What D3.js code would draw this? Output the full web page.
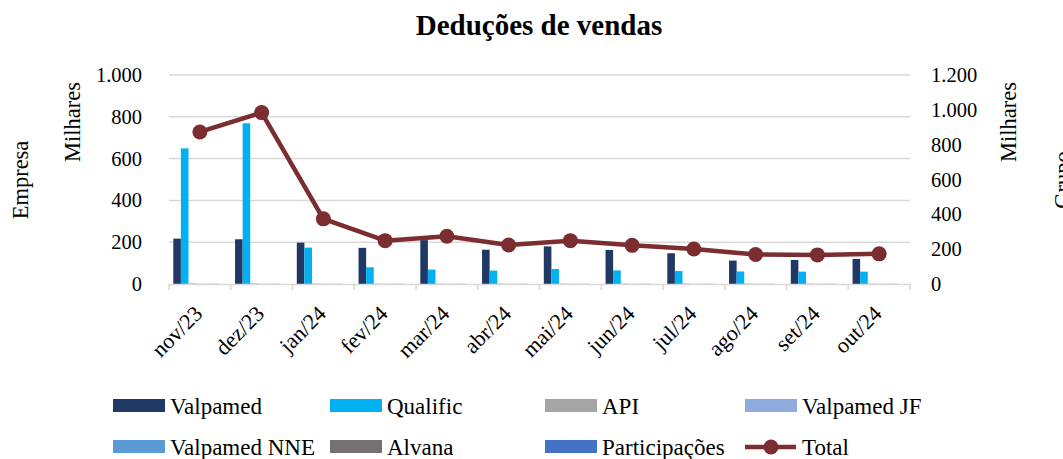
<!DOCTYPE html>
<html>
<head>
<meta charset="utf-8">
<script src="https://cdn.jsdelivr.net/npm/d3@7"></script>
<style>
  body { margin: 0; background: #fff; }
  svg, svg text { font-family: "Liberation Serif", "DejaVu Serif", serif; fill: #000; }
</style>
</head>
<body>
<div id="chart"></div>
<script>
const months = ['nov/23', 'dez/23', 'jan/24', 'fev/24', 'mar/24', 'abr/24', 'mai/24', 'jun/24', 'jul/24', 'ago/24', 'set/24', 'out/24'];

// valores em milhares
const valpamed = [217, 214, 198, 173, 210, 164, 180, 163, 147, 112, 115, 120];
const qualific = [649, 769, 174, 80, 69, 64, 72, 65, 62, 60, 59, 59];
const api = [3, 3, 2, 2, 2, 2, 2, 2, 2, 2, 2, 2];
const valpamedJF = [1, 1, 1, 1, 1, 1, 1, 1, 1, 1, 1, 1];
const valpamedNNE = [1, 1, 1, 1, 1, 1, 1, 1, 1, 1, 1, 1];
const alvana = [1, 1, 1, 1, 1, 1, 1, 1, 1, 1, 1, 1];
const participacoes = [0, 0, 0, 0, 0, 0, 0, 0, 0, 0, 0, 0];
const total = [873, 984, 374, 249, 274, 224, 249, 222, 201, 169, 167, 173];

const leftTicks = [0, 200, 400, 600, 800, 1000];
const rightTicks = [0, 200, 400, 600, 800, 1000, 1200];

const series = [
  { name: 'Valpamed', values: valpamed, color: '#1F3864' },
  { name: 'Qualific', values: qualific, color: '#00B0F0' },
  { name: 'API', values: api, color: '#A5A5A5' },
  { name: 'Valpamed JF', values: valpamedJF, color: '#8FAADC' },
  { name: 'Valpamed NNE', values: valpamedNNE, color: '#5B9BD5' },
  { name: 'Alvana', values: alvana, color: '#767171' },
  { name: 'Participações', values: participacoes, color: '#4472C4' }
];
const totalColor = '#7B2D30';

const width = 1063, height = 459;
const plot = { left: 169, right: 910, top: 75, bottom: 284 };
const serif = '"Liberation Serif", "DejaVu Serif", serif';

const svg = d3.select('#chart')
  .append('svg')
  .attr('width', width)
  .attr('height', height)
  .attr('font-family', serif);

const fmt = d3.formatLocale({ decimal: ',', thousands: '.', grouping: [3], currency: ['', ''] }).format(',d');

const x = d3.scaleBand()
  .domain(months)
  .range([plot.left, plot.right]);

const x1 = d3.scaleBand()
  .domain(series.map(s => s.name))
  .range([4.3, x.bandwidth() - 4.3]);

const yLeft = d3.scaleLinear()
  .domain([0, 1000])
  .range([plot.bottom, plot.top]);

const yRight = d3.scaleLinear()
  .domain([0, 1200])
  .range([plot.bottom, plot.top]);

// Título
svg.append('text')
  .attr('x', 539)
  .attr('y', 35)
  .attr('text-anchor', 'middle')
  .style('font-size', '29px')
  .style('font-weight', 'bold')
  .text('Deduções de vendas');

// Linhas de grade
svg.append('g')
  .selectAll('line')
  .data(leftTicks.filter(d => d > 0))
  .enter().append('line')
  .attr('x1', plot.left)
  .attr('x2', plot.right)
  .attr('y1', d => yLeft(d))
  .attr('y2', d => yLeft(d))
  .attr('stroke', '#D9D9D9')
  .attr('stroke-width', 1.5);

// Barras
series.forEach(s => {
  svg.append('g')
    .selectAll('rect')
    .data(s.values)
    .enter().append('rect')
    .attr('x', (d, i) => x(months[i]) + x1(s.name))
    .attr('width', x1.bandwidth())
    .attr('y', d => yLeft(d))
    .attr('height', d => plot.bottom - yLeft(d))
    .attr('fill', s.color);
});

// Eixo X
const xAxis = svg.append('g');
xAxis.append('line')
  .attr('x1', plot.left)
  .attr('x2', plot.right)
  .attr('y1', plot.bottom + 0.5)
  .attr('y2', plot.bottom + 0.5)
  .attr('stroke', '#D9D9D9')
  .attr('stroke-width', 1.5);
xAxis.selectAll('.tick')
  .data(months.concat(['end']))
  .enter().append('line')
  .attr('x1', (d, i) => plot.left + i * x.bandwidth())
  .attr('x2', (d, i) => plot.left + i * x.bandwidth())
  .attr('y1', plot.bottom)
  .attr('y2', plot.bottom + 6)
  .attr('stroke', '#D9D9D9')
  .attr('stroke-width', 1.5);
xAxis.selectAll('text')
  .data(months)
  .enter().append('text')
  .attr('text-anchor', 'end')
  .attr('transform', d => `translate(${x(d) + x.bandwidth() / 2 + 4}, ${plot.bottom + 31}) rotate(-45)`)
  .style('font-size', '22px')
  .text(d => d);

// Eixo esquerdo
svg.append('g')
  .selectAll('text')
  .data(leftTicks)
  .enter().append('text')
  .attr('x', 142)
  .attr('y', d => yLeft(d) + 7)
  .attr('text-anchor', 'end')
  .style('font-size', '20.5px')
  .text(d => fmt(d));

// Eixo direito
svg.append('g')
  .selectAll('text')
  .data(rightTicks)
  .enter().append('text')
  .attr('x', 931)
  .attr('y', d => yRight(d) + 7)
  .attr('text-anchor', 'start')
  .style('font-size', '20.5px')
  .text(d => fmt(d));

// Títulos dos eixos
const axisTitle = (tx, ty, label) => svg.append('text')
  .attr('transform', `translate(${tx}, ${ty}) rotate(-90)`)
  .attr('text-anchor', 'middle')
  .style('font-size', '22.5px')
  .text(label);
axisTitle(28, 180, 'Empresa');
axisTitle(80, 122, 'Milhares');
axisTitle(1016, 122, 'Milhares');
axisTitle(1070, 180, 'Grupo');

// Linha Total
const line = d3.line()
  .x((d, i) => x(months[i]) + x.bandwidth() / 2)
  .y(d => yRight(d));

svg.append('path')
  .datum(total)
  .attr('d', line)
  .attr('fill', 'none')
  .attr('stroke', totalColor)
  .attr('stroke-width', 4.5)
  .attr('stroke-linejoin', 'round');

svg.append('g')
  .selectAll('circle')
  .data(total)
  .enter().append('circle')
  .attr('cx', (d, i) => x(months[i]) + x.bandwidth() / 2)
  .attr('cy', d => yRight(d))
  .attr('r', 7.5)
  .attr('fill', totalColor);

// Legenda
const legendItems = [
  { name: 'Valpamed', x: 113, row: 0 },
  { name: 'Qualific', x: 330, row: 0 },
  { name: 'API', x: 545, row: 0 },
  { name: 'Valpamed JF', x: 745, row: 0 },
  { name: 'Valpamed NNE', x: 113, row: 1 },
  { name: 'Alvana', x: 330, row: 1 },
  { name: 'Participações', x: 545, row: 1 },
  { name: 'Total', x: 745, row: 1 }
];
const rowY = [406, 447];

const legend = svg.append('g');
legendItems.forEach(item => {
  const s = series.find(d => d.name === item.name);
  const cy = rowY[item.row];
  if (s) {
    legend.append('rect')
      .attr('x', item.x)
      .attr('y', cy - 7)
      .attr('width', 52)
      .attr('height', 13)
      .attr('fill', s.color);
  } else {
    legend.append('line')
      .attr('x1', item.x)
      .attr('x2', item.x + 51)
      .attr('y1', cy)
      .attr('y2', cy)
      .attr('stroke', totalColor)
      .attr('stroke-width', 4.5);
    legend.append('circle')
      .attr('cx', item.x + 26)
      .attr('cy', cy)
      .attr('r', 7.5)
      .attr('fill', totalColor);
  }
  legend.append('text')
    .attr('x', item.x + 57)
    .attr('y', cy + 8)
    .style('font-size', '23px')
    .text(item.name);
});
</script>
</body>
</html>
